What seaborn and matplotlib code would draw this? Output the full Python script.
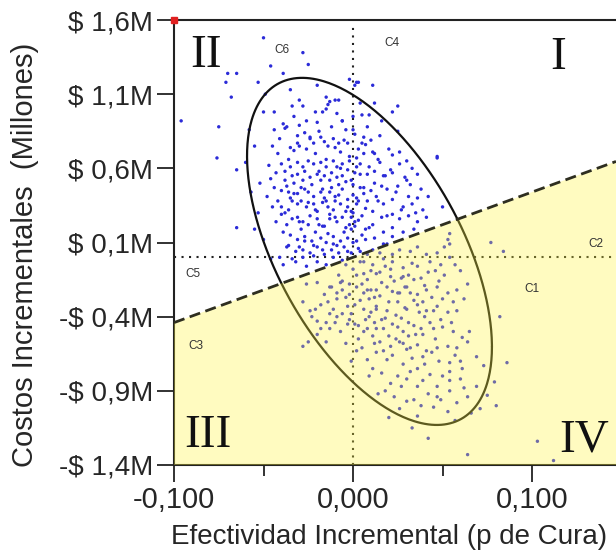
import numpy as np
import pandas as pd
import matplotlib
matplotlib.use("Agg")
import matplotlib.pyplot as plt
from matplotlib.ticker import FixedLocator
import seaborn as sns

# ---------------- data (effect in 0.001 units, cost in 0.01 M units) -------------
upper_out_eff = [-50, -28, -46, -70, -65, -39, -53, -71, -68, -35, -49, -30, -28, -15, -13, -10, -8, -17, -15, -14,
                 -50, -44, -21, -34, -75, -39, -37, -38, -44, -30, -24, -18, -16, -14, -10, -8, -55, -45, -31, -30,
                 -35, -6, -4, -2, 2, -96,
                 3, 1, 11, 12, 25, 22, 9, 5, 6, 5, 7, 25, 11, 12, 22, 26, 47, 0, 0]
upper_out_cost = [148, 138, 129, 124, 124, 124, 118, 118, 108, 113, 110, 106, 102, 108, 105, 106, 106, 98, 100, 103,
                  98, 98, 98, 102, 88, 90, 88, 87, 86, 89, 81, 81, 78, 75, 74, 77, 75, 75, 77, 75,
                  74, 92, 86, 120, 118, 92,
                  118, 116, 116, 104, 102, 98, 96, 96, 81, 77, 76, 85, 71, 70, 69, 71, 68, 95, 86]

upper_core_eff = [-76, -65, -40, -35, -31, -28, -25, -22, -18, -15, -11, -6, -3, -2, 2, -46,
                  -34, -31, -28, -24, -20, -16, -13, -9, -6, -1, -52, -44, -37,
                  -36, -31, -27, -22, -18, -16, -13, -10, -6, -3, 0,
                  -45, -40, -36, -34, -31, -26, -22, -20, -17, -14, -11, -7, -3, -1, 2,
                  -40, -37, -31, -28, -24, -20, -17, -13, -9, -6, -2, 1, -65, -55,
                  -35, -31, -27, -23, -18, -15, -11, -7, -3, 0,
                  -37, -32, -28, -24, -20, -16, -12, -8, -3,
                  -46, -39, -32, -26, -20, -15]
upper_core_cost = [67, 59, 63, 61, 64, 61, 65, 63, 64, 61, 65, 63, 59, 65, 61, 53,
                   55, 56, 52, 54, 56, 55, 52, 54, 55, 52, 50, 47, 48,
                   44, 43, 46, 41, 44, 40, 44, 41, 46, 39, 42,
                   34, 34, 32, 38, 36, 34, 36, 31, 37, 34, 32, 36, 34, 31, 36,
                   29, 22, 27, 24, 28, 26, 21, 26, 24, 27, 22, 24, 20, 19,
                   15, 12, 14, 11, 13, 10, 14, 11, 13, 10,
                   7, 4, 5, 3, 7, 2, 5, 3, 4,
                   -1, -5, -3, -6, -3, -5]

upper_right_eff = [47, 4, 9, 15, 21, 26, 30, 8, 17, 22, 29, 36,
                   0, 6, 12, 19, 25, 32, 42, 36,
                   2, 8, 13, 17, 22, 28, 33, 39, 50,
                   0, 5, 11, 16, 22, 26, 31, 36, 41,
                   1, 7, 11, 17, 22, 28, 34, 22, 2, 7, 12, 17]
upper_right_cost = [67, 63, 61, 64, 59, 63, 65, 56, 55, 57, 54, 56,
                    49, 47, 50, 46, 48, 49, 41, 40,
                    40, 38, 41, 36, 39, 34, 36, 32, 34,
                    30, 28, 31, 27, 29, 26, 28, 24, 27,
                    21, 19, 22, 17, 20, 17, 19, 14, 11, 12, 13, 9]

upper_extra_eff = [-33, -27, -21, -12, -5, 3, 8, 14, -38, -29, -19, -8, 4, -25, -13, -4, 7, -30, -21, -9,
                   5, -17, -2, 10, -35, -24, -15, -6, 12, -10, -1, 9, -27, -16, -40, 16, 19, -7, 1, -20]
upper_extra_cost = [72, 84, 70, 88, 79, 73, 88, 66, 58, 47, 58, 49, 56, 37, 29, 20, 33, 24, 17, 8,
                    15, 46, 68, 45, 40, 80, 66, 92, 58, 38, 27, 20, 11, 21, 45, 48, 28, 60, 83, 91]

upper_dense_eff = [-42, -36, -31, -26, -22, -19, -11, -7, -3, 2, 6, 10, -47, -43, -38, -33, -27, -23, -18, -12,
                   -9, -4, 1, 4, -48, -42, -38, -33, -29, -25, -21, -15, -12, -8, -4, 3, 6, -43, -39, -34,
                   -29, -25, -19, -14, -10, -5, -1, 3, -36, -30, -22, -17, -11, -5, -1, 3, -41, -34, -28, -22,
                   -11, -6, -20, -33, -26, -41, -58, -60, -57, -53, -50, 14, 18, 24, 27, 31, 35, 38, 15, 20,
                   33, -9, -25, 4, 16, 30]
upper_dense_cost = [70, 66, 82, 73, 77, 85, 80, 71, 77, 67, 70, 79, 62, 57, 52, 50, 58, 49, 52, 57,
                    61, 51, 57, 47, 41, 38, 30, 43, 38, 44, 32, 38, 47, 42, 31, 38, 43, 24, 17, 26,
                    19, 22, 22, 16, 27, 17, 19, 25, 8, 7, 8, 5, 9, 7, 3, 6, 0, -1, 0, 1,
                    0, -2, 116, 95, 92, 80, 86, 64, 44, 30, 12, 38, 55, 44, 32, 41, 30, 46, 82, 73,
                    60, 97, 130, 104, 92, 52]

lower_top_eff = [54, 53, 54, 51, 47, 41, 36, 32, 26, 22, 19, 15, 11, 8, 4, 6, 11, 17, 22, 28, 36, 43, 49, 54,
                 60, 28, 21, 13, 6, 77, 84,
                 -28, -24, -21, -18, -13, -9, -15, -20, -25, -28, -13, -7, -15, -6, -2, 2, 6, 9, 13, -3, 1,
                 6, 9, 13, -2, 3, 8, 11, 2, 8, 13, -3, -26, -20, -13, -9, -7]
lower_top_cost = [16, 12, 9, 7, 3, 2, 7, 4, 5, 2, 9, 3, 5, 2, 4, -3, -5, -1, -3, -7, -6, -3, -5, 0,
                  -9, -13, -13, -11, -11, 10, 4,
                  -30, -36, -35, -32, -38, -40, -44, -43, -57, -60, -48, -50, -57, -22, -25, -20, -24, -28, -22, -33, -32,
                  -35, -40, -35, -42, -46, -48, -53, -63, -69, -64, -45, -18, -17, -20, -24, -17]

lower_core_eff = [19, 25, 30, 36, 41, 47, 53, 58, 64, 13, 19, 25, 30, 36, 41, 47, 53, 58,
                  12, 17, 22, 28, 34, 39, 45, 50, 56, 61, 65,
                  15, 21, 26, 30, 36, 41, 47, 53, 58, 64, 69, 73,
                  19, 28, 36, 43, 54, 60, 54, 61, 30, 36, 47, 54, 60,
                  18, 23, 27, 34, 42, 47, 54, 58, 64, 69, 79, 80, 71,
                  26, 36, 45, 53, 42, 82, 86, 103, 112, 64]
lower_core_cost = [-20, -24, -20, -25, -22, -20, -24, -22, -18, -33, -36, -30, -35, -32, -36, -33, -37, -36,
                   -44, -48, -45, -50, -46, -52, -48, -47, -50, -54, -50,
                   -57, -60, -57, -62, -59, -63, -61, -60, -61, -57, -67, -73,
                   -69, -72, -75, -79, -71, -70, -77, -75, -82, -87, -87, -83, -82,
                   -90, -94, -87, -96, -92, -94, -90, -98, -94, -87, -84, -100, -102,
                   -102, -107, -101, -104, -122, -40, -71, -124, -137, -133]

lower_extra_eff = [-8, 0, 8, 15, 23, 31, 38, -4, 5, 12, 20, 27, 34, 44, -11, -1, 10, 16, 24, 31, 40, 3, 13,
                   20, 28, 35, 46, -6, 18, 26, 33, 42, 48, 7, 22, 33, 44, 11, 25, 39, -16, -12, 2, 29, 37]
lower_extra_cost = [-12, -8, -15, -10, -16, -12, -14, -27, -18, -27, -30, -14, -29, -27, -35, -38, -22, -42, -39,
                    -44, -40, -55, -48, -53, -58, -52, -55, -16, -6, -24, -4, -10, -16, -42, -66, -68, -64, -75,
                    -80, -83, -25, -20, -12, -34, -37]

lower_dense_eff = [-4, 4, 10, 16, 21, 29, 34, 40, 46, 51, 57, -9, -2, 4, 8, 15, 22, 27, 32, 39, 45, 50, 56, 62,
                   -14, -6, 1, 6, 10, 18, 25, 31, 38, 43, 49, 55, -10, -4, 5, 12, 17, 24, 32, 39, 48, 57,
                   -1, 9, 16, 21, 32, 40, 50, 62, 14, 30, 38, 49, 20, 33, 57, 66, 75, -20, -18, -23]
lower_dense_cost = [-5, -3, -9, -17, -8, -20, -15, -19, -9, -12, -5, -28, -18, -29, -22, -26, -23, -41, -24, -30,
                    -36, -28, -30, -28, -30, -38, -45, -50, -37, -41, -47, -53, -48, -44, -42, -44, -44, -58,
                    -61, -58, -63, -55, -61, -67, -70, -66, -70, -80, -78, -85, -77, -72, -80, -88, -92, -97,
                    -100, -96, -108, -115, -110, -105, -93, -52, -48, -40]

# Confidence ellipse and willingness-to-pay threshold
ellipse_center = (0.0092, 0.04)
ellipse_half = (0.0684, 1.17)
ellipse_rho = -0.55
wtp_slope = 4.4  # millions per unit of effectiveness

y_ticks = [-1.4, -0.9, -0.4, 0.1, 0.6, 1.1, 1.6]
y_tick_labels = ["-$ 1,4M", "-$ 0,9M", "-$ 0,4M", "$ 0,1M", "$ 0,6M", "$ 1,1M", "$ 1,6M"]
x_ticks = [-0.1, 0.0, 0.1]
x_tick_labels = ["-0,100", "0,000", "0,100"]
quadrants = ["I", "II", "III", "IV"]
quad_x = [0.1145, -0.0821, -0.081, 0.129]
quad_y = [1.267, 1.281, -1.281, -1.308]
c_labels = ["C1", "C2", "C3", "C4", "C5", "C6"]
c_x = [0.1000, 0.1358, -0.0877, 0.0218, -0.0894, -0.0397]
c_y = [-0.2326, 0.0708, -0.6169, 1.426, -0.1315, 1.379]

eff = np.array(upper_out_eff + upper_core_eff + upper_right_eff + upper_extra_eff + upper_dense_eff +
               lower_top_eff + lower_core_eff + lower_extra_eff + lower_dense_eff) * 0.001
cost = np.array(upper_out_cost + upper_core_cost + upper_right_cost + upper_extra_cost + upper_dense_cost +
                lower_top_cost + lower_core_cost + lower_extra_cost + lower_dense_cost) * 0.01
df = pd.DataFrame({"eff": eff, "cost": cost})

# ---------------- figure -------------
sns.set_style("white")
plt.rcParams['font.family'] = ['Liberation Sans', 'DejaVu Sans']

fig = plt.figure(figsize=(6.16, 5.54), dpi=100)
ax = fig.add_axes([174 / 616, 1 - 465 / 554, 1 - 174 / 616, (465 - 20) / 554])
xmin, xmax = -0.1, 0.1469
ymin, ymax = -1.4, 1.6

sns.scatterplot(data=df, x="eff", y="cost", ax=ax, s=6, color="#2b2bd8", edgecolor="none",
                linewidth=0, zorder=2, legend=False)

# dotted axes through origin
ax.axhline(0, color="#222222", lw=1.5, ls=(0, (1, 2.6)), zorder=1.5)
ax.axvline(0, ymax=0.985, color="#222222", lw=1.5, ls=(0, (1, 2.6)), zorder=1.5)

# ellipse
t = np.linspace(0, 2 * np.pi, 400)
ex = ellipse_center[0] + ellipse_half[0] * np.cos(t)
ey = ellipse_center[1] + ellipse_half[1] * np.cos(t + np.arccos(ellipse_rho))
ax.plot(ex, ey, color="#111111", lw=1.6, zorder=2.5)

# WTP line and acceptance region
xs = np.array([xmin, xmax])
ax.fill([xmin, xmax, xmax, xmin], [wtp_slope * xmin, wtp_slope * xmax, ymin, ymin],
        color=(1.0, 0.96, 0.24), alpha=0.32, lw=0, zorder=3)
ax.plot(xs, wtp_slope * xs, color="#2e2e20", lw=2.0, ls=(0, (4, 2)), zorder=4)

ax.set_xlim(xmin, xmax)
ax.set_ylim(ymin, ymax)

ax.set_xticks(x_ticks)
ax.set_xticklabels(x_tick_labels)
ax.xaxis.set_minor_locator(FixedLocator([-0.05, 0.05]))
ax.set_yticks(y_ticks)
ax.set_yticklabels(y_tick_labels)
ax.tick_params(axis="x", which="major", bottom=True, direction="out", length=12, width=1.3,
               labelsize=21, pad=3, color="#222222")
ax.tick_params(axis="x", which="minor", bottom=True, direction="out", length=8, width=1.3, color="#222222")
ax.tick_params(axis="y", which="major", left=True, direction="out", length=12, width=1.3,
               labelsize=20, pad=3, color="#222222")

for side in ["left", "bottom", "top"]:
    ax.spines[side].set_visible(True)
    ax.spines[side].set_color("#222222")
    ax.spines[side].set_linewidth(1.5)
ax.spines["right"].set_visible(False)

ax.set_xlabel("Efectividad Incremental (p de Cura)", fontsize=20, va="center")
ax.xaxis.set_label_coords(0.486, -0.162)
ax.set_ylabel("Costos Incrementales  (Millones)", fontsize=21, va="center")
ax.yaxis.set_label_coords(-0.337, 0.472)

for lab, qx, qy in zip(quadrants, quad_x, quad_y):
    ax.text(qx, qy, lab, family=["Liberation Serif", "DejaVu Serif"], fontsize=34,
            ha="center", va="baseline", color="#111111", zorder=6)
for lab, cx, cy in zip(c_labels, c_x, c_y):
    ax.text(cx, cy, lab, fontsize=8.5, ha="center", va="baseline", color="#333333", zorder=6)

ax.plot([xmin], [ymax], marker="s", ms=5, color="#e02020", clip_on=False, zorder=7)

fig.savefig("out.png", dpi=100)
